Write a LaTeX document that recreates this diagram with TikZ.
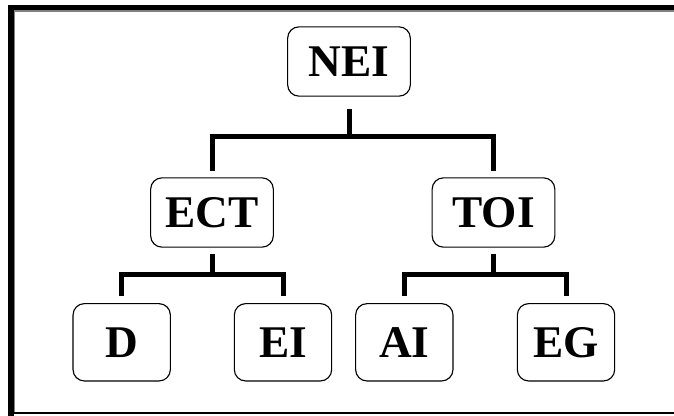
\documentclass[tikz,border=0pt]{standalone}
\usepackage{fontspec}
\setmainfont{Liberation Serif}
\definecolor{edgegray}{RGB}{128,128,128}

\begin{document}
\begin{tikzpicture}[x=0.75pt,y=0.75pt,yscale=-1,xscale=1,
    box/.style={draw, rounded corners=8.5pt, line width=0.85pt, inner sep=0pt,
      font=\fontsize{34}{40}\selectfont\bfseries},
    midbox/.style={box, minimum width=92pt, minimum height=52pt},
    leafbox/.style={box, minimum width=73pt, minimum height=58pt},
    link/.style={line width=3.75pt}]
  \useasboundingbox (0,0) rectangle (674,416);
  % frame: heavy top and left, thin bottom
  \draw [line width=4pt] (674,7.5) -- (11,7.5) -- (11,416);
  \draw [edgegray, line width=1pt] (674,11) -- (14.5,11) -- (14.5,413);
  \draw [line width=1.2pt] (14,413) -- (674,413);

  % boxes
  \node [midbox] (NEI) at (349,61.5) {NEI};
  \node [midbox] (ECT) at (212,212.5) {ECT};
  \node [midbox] (TOI) at (493.5,212.5) {TOI};
  \node [leafbox] (D) at (121.7,342.3) {D};
  \node [leafbox] (EI) at (283,342.3) {EI};
  \node [leafbox] (AI) at (404.3,342.3) {AI};
  \node [leafbox] (EG) at (566,342.3) {EG};

  % branches
  \coordinate (j0) at (349,137);
  \path (ECT.south) ++(0,27) coordinate (j1);
  \path (TOI.south) ++(0,27) coordinate (j2);
  \draw [link, shorten <=9pt] (NEI) -- (j0);
  \draw [link, shorten >=4.5pt] (j0) -| (ECT);
  \draw [link, shorten >=4.5pt] (j0) -| (TOI);
  \draw [link, shorten <=4.5pt] (ECT) -- (j1);
  \draw [link, shorten >=5pt] (j1) -| (D);
  \draw [link, shorten >=5pt] (j1) -| (EI);
  \draw [link, shorten <=4.5pt] (TOI) -- (j2);
  \draw [link, shorten >=5pt] (j2) -| (AI);
  \draw [link, shorten >=5pt] (j2) -| (EG);
\end{tikzpicture}
\end{document}
